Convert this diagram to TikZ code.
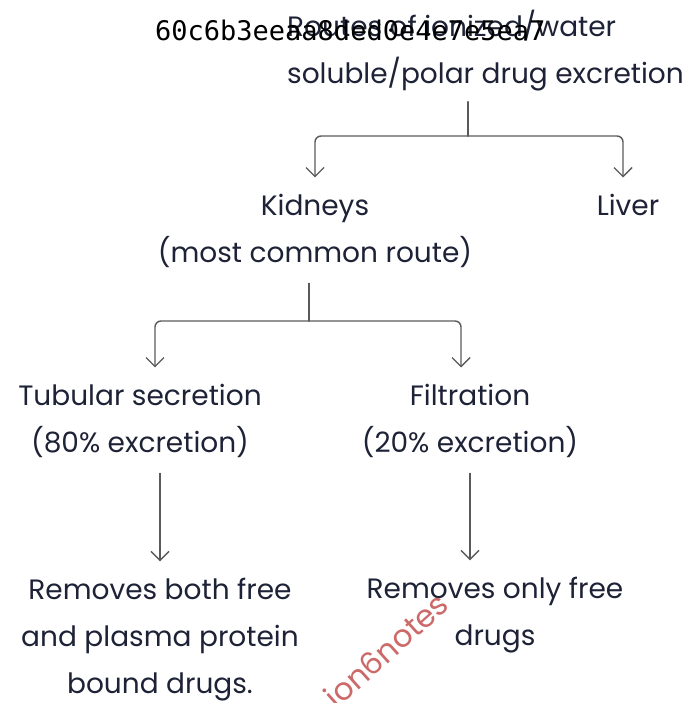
\documentclass[tikz,border=0pt]{standalone}
\usepackage{fontspec}
\setmainfont{Poppins}
\newfontfamily\hashfont{DejaVu Sans Mono}
\usetikzlibrary{arrows.meta,positioning}

\begin{document}
\begin{tikzpicture}[
    x=1pt,y=-1pt,
    line cap=round,
    %styles
    hand text/.style={text=inkcolor,font=\fontsize{28}{47}\selectfont,align=center,inner xsep=0pt,inner ysep=16pt},
    branch line/.style={draw=linecolor,line width=1.4pt,rounded corners=6pt},
    branch arrow/.style={branch line,-{Straight Barb[length=9pt,width=18pt,line width=1.4pt]}},
  ]
  %colors
  \definecolor{inkcolor}{HTML}{1D2236}
  \definecolor{linecolor}{HTML}{5A5A5A}
  \definecolor{markcolor}{HTML}{CC6A6A}
  \useasboundingbox (0,0) rectangle (699,703);

  % base = baseline of the last line
  \node[hand text,align=left,anchor=base west,inner ysep=10pt] (title) at (287,84)
  {Routes of ionized/water\\soluble/polar drug excretion};
  \node[anchor=base west,inner sep=0pt,font=\hashfont\fontsize{27}{30}\selectfont] (hash) at (155,41)
  {60c6b3eeaa8ded0e4e7e5ea7};

  \node[hand text,anchor=base] (kidneys) at (315,262) {Kidneys\\(most common route)};
  \node[hand text,anchor=base] (liver) at (628,215) {Liver};
  \node[hand text,anchor=base] (tubular) at (140,452) {Tubular secretion\\(80\% excretion)};
  \node[hand text,anchor=base] (filtration) at (470,452) {Filtration\\(20\% excretion)};
  \node[hand text,anchor=base] (both) at (160,693) {Removes both free\\and plasma protein\\bound drugs.};
  \node[hand text,anchor=base] (only) at (495,645) {Removes only free\\drugs};

  %branching
  \coordinate (split top) at (468,136);
  \coordinate (split low) at (309,321);
  \draw[branch line] (title.south -| split top) -- (split top);
  \draw[branch arrow] (split top) -| (kidneys.north);
  \draw[branch arrow] (split top) -| ([xshift=-5pt]liver.north);
  \draw[branch line] (kidneys.south -| split low) -- (split low);
  \draw[branch arrow] (split low) -| ([xshift=15pt]tubular.north);
  \draw[branch arrow] (split low) -| ([xshift=-9pt]filtration.north);
  \draw[branch arrow] (tubular.south -| both.north) -- (both.north);
  \draw[branch arrow] (filtration.south) -- (filtration.south |- only.north);

  %watermark
  \node[text=markcolor,rotate=42,font=\fontsize{31}{33}\selectfont,inner sep=0pt] (mark) at (386,650) {ion6notes};
\end{tikzpicture}
\end{document}
